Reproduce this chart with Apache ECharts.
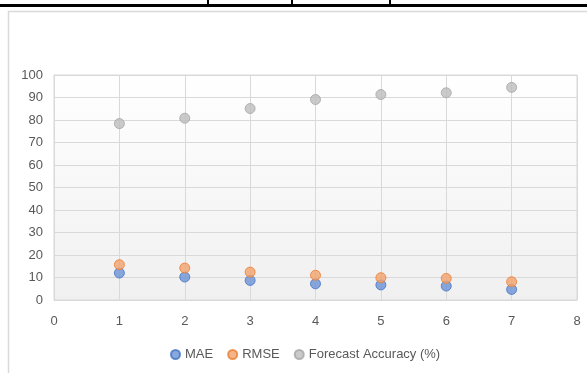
<!DOCTYPE html>
<html>
<head>
<meta charset="utf-8">
<script src="https://cdn.jsdelivr.net/npm/echarts@6/dist/echarts.min.js"></script>
<style>
html,body{margin:0;padding:0;background:#fff;}
#c{width:587px;height:373px;}
</style>
</head>
<body>
<div id="c"></div>
<script>
var xValues = [1, 2, 3, 4, 5, 6, 7];
var maeValues = [12.0, 10.2, 8.7, 7.2, 6.7, 6.2, 4.7];
var rmseValues = [15.7, 14.2, 12.4, 11.0, 9.9, 9.6, 8.1];
var accuracyValues = [78.4, 80.8, 85.1, 89.1, 91.3, 92.1, 94.5];
var seriesNames = ['MAE', 'RMSE', 'Forecast Accuracy (%)'];

function pairs(vals) { return xValues.map(function (x, i) { return [x, vals[i]]; }); }

var font = 'Liberation Sans';
var txt = '#595959';
var chart = echarts.init(document.getElementById('c'), null, { renderer: 'canvas' });
chart.setOption({
  animation: false,
  textStyle: { fontFamily: font },
  graphic: [
    { type: 'rect', shape: { x: 8.5, y: 11.5, width: 620, height: 420 }, style: { fill: 'none', stroke: '#d9d9d9', lineWidth: 1.5 }, z: 0 },
    { type: 'rect', shape: { x: 0, y: 4, width: 587, height: 3 }, style: { fill: '#000' }, z: 10 },
    { type: 'rect', shape: { x: 207, y: 0, width: 2, height: 5 }, style: { fill: '#000' }, z: 10 },
    { type: 'rect', shape: { x: 291, y: 0, width: 2, height: 5 }, style: { fill: '#000' }, z: 10 },
    { type: 'rect', shape: { x: 389, y: 0, width: 2, height: 5 }, style: { fill: '#000' }, z: 10 }
  ],
  grid: {
    left: 54, top: 75, right: 10, bottom: 73,
    show: true, borderColor: '#d9d9d9', borderWidth: 1,
    backgroundColor: new echarts.graphic.LinearGradient(0, 0, 0, 1, [
      { offset: 0, color: '#ffffff' }, { offset: 1, color: '#f0f0f0' }
    ])
  },
  legend: {
    bottom: 7, left: 165,
    data: seriesNames,
    icon: 'circle', itemWidth: 9, itemHeight: 9, itemGap: 14,
    textStyle: { color: txt, fontSize: 13, fontFamily: font }
  },
  xAxis: {
    type: 'value', min: 0, max: 8, interval: 1,
    axisLine: { show: true, lineStyle: { color: '#d9d9d9' } },
    axisTick: { show: false },
    axisLabel: { color: txt, fontSize: 13, margin: 15, fontFamily: font },
    splitLine: { show: true, lineStyle: { color: '#d9d9d9', width: 1 } }
  },
  yAxis: {
    type: 'value', min: 0, max: 100, interval: 10,
    axisLine: { show: true, lineStyle: { color: '#d9d9d9' } },
    axisTick: { show: false },
    axisLabel: { color: txt, fontSize: 13, margin: 11, fontFamily: font },
    splitLine: { show: true, lineStyle: { color: '#d9d9d9', width: 1 } }
  },
  series: [
    { name: seriesNames[0], type: 'scatter', data: pairs(maeValues), symbolSize: 10,
      itemStyle: { color: '#6c93d6', borderColor: '#4472c4', borderWidth: 1 } },
    { name: seriesNames[1], type: 'scatter', data: pairs(rmseValues), symbolSize: 10,
      itemStyle: { color: '#f3a26d', borderColor: '#ed7d31', borderWidth: 1 } },
    { name: seriesNames[2], type: 'scatter', data: pairs(accuracyValues), symbolSize: 10,
      itemStyle: { color: '#bdbdbd', borderColor: '#a5a5a5', borderWidth: 1 } }
  ]
});
</script>
</body>
</html>
